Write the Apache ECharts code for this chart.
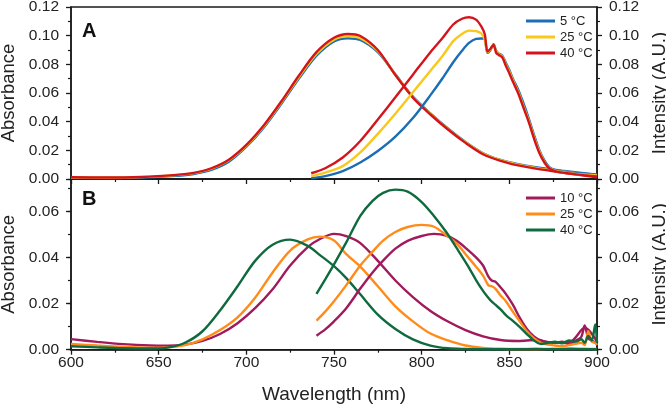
<!DOCTYPE html>
<html><head><meta charset="utf-8">
<script src="https://cdn.jsdelivr.net/npm/echarts@6/dist/echarts.min.js"></script>
<style>html,body{margin:0;padding:0;background:#fff}#c{width:666px;height:408px}</style>
</head><body><div id="c"></div><script>
// ---------- Panel A (top) ----------
const wlAbsA = [600,620,640,660,670,680,690,700,710,720,730,740,750,758,765,775,785,795,805,815,825,835,845,855,865,880,900];
const absA5  = [0.0008,0.0007,0.0010,0.0022,0.0035,0.0063,0.0120,0.0225,0.0360,0.0525,0.0700,0.0860,0.0960,0.0982,0.0970,0.0885,0.0730,0.0575,0.0458,0.0352,0.0258,0.0180,0.0133,0.0103,0.0082,0.0058,0.0030];
const absA25 = [0.0010,0.0009,0.0013,0.0027,0.0041,0.0072,0.0130,0.0232,0.0368,0.0535,0.0712,0.0872,0.0972,0.0995,0.0983,0.0893,0.0728,0.0572,0.0455,0.0350,0.0256,0.0178,0.0131,0.0100,0.0078,0.0052,0.0022];
const absA40 = [0.0012,0.0010,0.0014,0.0029,0.0043,0.0075,0.0135,0.0238,0.0375,0.0542,0.0722,0.0885,0.0985,0.1012,0.0998,0.0900,0.0725,0.0568,0.0450,0.0345,0.0252,0.0173,0.0127,0.0095,0.0072,0.0045,0.0012];

const wlEmA = [737,745,755,765,775,785,795,805,812,818,823,827,831,834,836,837.5,839,841,842.5,844,846,848,850,852,855,858,861,864,867,870,873,877,882,888,894,900];
const emA5  = [0.0005,0.0020,0.0055,0.0115,0.0195,0.0295,0.0425,0.0585,0.0705,0.0815,0.0895,0.0950,0.0978,0.0980,0.0975,0.0880,0.0895,0.0940,0.0895,0.0875,0.0860,0.0810,0.0760,0.0700,0.0625,0.0530,0.0425,0.0310,0.0205,0.0130,0.0080,0.0058,0.0048,0.0040,0.0035,0.0030];
const emA25 = [0.0020,0.0045,0.0090,0.0185,0.0315,0.0455,0.0605,0.0755,0.0860,0.0962,0.1012,0.1035,0.1032,0.1015,0.0970,0.0885,0.0900,0.0935,0.0890,0.0870,0.0855,0.0800,0.0750,0.0690,0.0610,0.0510,0.0410,0.0295,0.0195,0.0120,0.0075,0.0055,0.0045,0.0035,0.0030,0.0025];
const emA40 = [0.0040,0.0075,0.0150,0.0265,0.0415,0.0570,0.0728,0.0885,0.0985,0.1078,0.1118,0.1128,0.1112,0.1065,0.1010,0.0890,0.0905,0.0935,0.0880,0.0865,0.0848,0.0790,0.0738,0.0680,0.0600,0.0500,0.0400,0.0285,0.0185,0.0115,0.0072,0.0052,0.0042,0.0032,0.0025,0.0018];

// ---------- Panel B (bottom) ----------
const wlAbsB = [600,615,630,645,655,665,675,685,695,705,715,725,735,742,750,757,765,775,785,795,805,815,825,835,845,855,865,875,885,893,900];
const absB10 = [0.0046,0.0034,0.0024,0.0018,0.0017,0.0022,0.0038,0.0068,0.0115,0.0180,0.0262,0.0365,0.0445,0.0480,0.0502,0.0492,0.0462,0.0385,0.0300,0.0228,0.0168,0.0122,0.0085,0.0058,0.0042,0.0038,0.0042,0.0030,0.0035,0.0095,0.0035];
const absB25 = [0.0025,0.0018,0.0012,0.0009,0.0010,0.0020,0.0045,0.0085,0.0140,0.0225,0.0335,0.0430,0.0478,0.0490,0.0473,0.0414,0.0360,0.0275,0.0188,0.0123,0.0070,0.0040,0.0018,0.0008,0.0004,0.0003,0.0003,0.0004,0.0005,0.0004,0.0003];
const absB40 = [0.0015,0.0010,0.0006,0.0005,0.0009,0.0030,0.0080,0.0170,0.0275,0.0385,0.0455,0.0477,0.0450,0.0410,0.0362,0.0310,0.0240,0.0152,0.0090,0.0045,0.0018,0.0006,0.0003,0.0002,0.0002,0.0002,0.0003,0.0002,0.0003,0.0002,0.0002];

const wlEmB = [740,745,750,757,765,772,778,785,792,800,807,814,820,826,831,835,838,840,842,845,848,852,856,860,864,868,872,876,880,884,888,891,893,895,897,899,900];
const emB10 = [0.0061,0.0088,0.0123,0.0180,0.0265,0.0335,0.0386,0.0438,0.0472,0.0493,0.0502,0.0495,0.0472,0.0435,0.0400,0.0365,0.0318,0.0300,0.0295,0.0270,0.0242,0.0195,0.0138,0.0090,0.0058,0.0040,0.0032,0.0030,0.0035,0.0025,0.0040,0.0055,0.0105,0.0050,0.0040,0.0030,0.0025];
const emB25 = [0.0126,0.0165,0.0210,0.0280,0.0365,0.0425,0.0473,0.0510,0.0532,0.0541,0.0533,0.0497,0.0460,0.0405,0.0360,0.0321,0.0280,0.0275,0.0265,0.0235,0.0210,0.0165,0.0122,0.0080,0.0050,0.0030,0.0022,0.0018,0.0015,0.0020,0.0025,0.0030,0.0020,0.0080,0.0035,0.0030,0.0020];
const emB40 = [0.0242,0.0305,0.0370,0.0465,0.0580,0.0645,0.0680,0.0694,0.0685,0.0640,0.0580,0.0510,0.0440,0.0368,0.0302,0.0255,0.0225,0.0208,0.0195,0.0175,0.0150,0.0125,0.0098,0.0068,0.0040,0.0025,0.0030,0.0035,0.0028,0.0040,0.0035,0.0045,0.0030,0.0060,0.0040,0.0110,0.0030];

const legendA = {A5:'5 °C', A25:'25 °C', A40:'40 °C'};
const legendB = {B10:'10 °C', B25:'25 °C', B40:'40 °C'};
const colors = {A5:'#1b6db4', A25:'#f9c81b', A40:'#d4141c', B10:'#a01a5c', B25:'#ff8c1a', B40:'#0f6a3f'};
const xTitle = 'Wavelength (nm)';
const yLeftTitle = 'Absorbance';
const yRightTitle = 'Intensity (A.U.)';

const FONT = 'Liberation Sans';
const AX = '#1a1a1a';
const pair = (xs, ys) => xs.map((x, i) => [x, ys[i]]);

function xAx(grid, labels) {
  return {
    type:'value', gridIndex:grid, min:600, max:900, interval:50,
    axisLine:{show:true, onZero:false, lineStyle:{color:AX, width:1.5}},
    axisTick:{show:true, inside:false, length:5, lineStyle:{color:AX, width:1.3}},
    minorTick:{show:true, splitNumber:2, length:3, lineStyle:{color:AX, width:1.2}},
    splitLine:{show:false}, minorSplitLine:{show:false},
    axisLabel:{show:labels, color:'#222', fontFamily:FONT, fontSize:15.5, margin:5},
    name: labels ? xTitle : '', nameLocation:'middle', nameGap:36,
    nameTextStyle:{color:'#222', fontFamily:FONT, fontSize:19}
  };
}
function yAx(grid, pos, max, name, minorViaTick) {
  return {
    type:'value', gridIndex:grid, position:pos, min:0, max:max, interval:0.02,
    axisLine:{show:true, onZero:false, lineStyle:{color:AX, width:1.5}},
    axisTick:{show:true, inside:false, length:5, lineStyle:{color:AX, width:1.3}},
    minorTick:{show:!minorViaTick, splitNumber:2, length:3, lineStyle:{color:AX, width:1.2}},
    splitLine:{show:false},
    axisLabel:{color:'#222', fontFamily:FONT, fontSize:15.5, margin:12, showMaxLabel: !minorViaTick,
      formatter: v => v.toFixed(2)},
    name:name, nameLocation:'middle', nameRotate:90, nameGap: pos==='left' ? 52 : 51,
    nameTextStyle:{color:'#222', fontFamily:FONT, fontSize:18.5}
  };
}
function yMinor(grid, pos, max) {
  return {
    type:'value', gridIndex:grid, position:pos, min:0, max:max, interval:0.01,
    axisLine:{show:false}, axisLabel:{show:false}, splitLine:{show:false},
    axisTick:{show:true, inside:false, length:3, lineStyle:{color:AX, width:1.2}}
  };
}
function line(name, xs, ys, xi, yi) {
  return {
    type:'line', name:name, xAxisIndex:xi, yAxisIndex:yi, data:pair(xs, ys),
    showSymbol:false, symbol:'none', smooth:0.3, color:colors[name],
    lineStyle:{color:colors[name], width:2.4}, z:3
  };
}

const chart = echarts.init(document.getElementById('c'), null, {renderer:'canvas'});
const BMAX = 0.074;
chart.setOption({
  animation:false,
  backgroundColor:'#fff',
  textStyle:{fontFamily:FONT},
  grid:[
    {left:71, top:7, width:526, height:172, show:true, borderColor:AX, borderWidth:1.5, backgroundColor:'transparent', containLabel:false, outerBoundsMode:'none'},
    {left:71, top:179, width:526, height:170.7, show:true, borderColor:AX, borderWidth:1.5, backgroundColor:'transparent', containLabel:false, outerBoundsMode:'none'}
  ],
  xAxis:[xAx(0,false), xAx(1,true)],
  yAxis:[
    yAx(0,'left',0.12,yLeftTitle,false),
    yAx(0,'right',0.12,yRightTitle,false),
    yAx(1,'left',BMAX,yLeftTitle,true),
    yAx(1,'right',BMAX,yRightTitle,true),
    yMinor(1,'left',BMAX),
    yMinor(1,'right',BMAX)
  ],
  legend:[
    {orient:'vertical', left:526, top:14.5, padding:0, itemWidth:29, itemHeight:3, itemGap:3, icon:'rect',
     data:['A5','A25','A40'], formatter:n => legendA[n],
     textStyle:{color:'#222', fontFamily:FONT, fontSize:13}},
    {orient:'vertical', left:526, top:191.5, padding:0, itemWidth:29, itemHeight:3, itemGap:3, icon:'rect',
     data:['B10','B25','B40'], formatter:n => legendB[n],
     textStyle:{color:'#222', fontFamily:FONT, fontSize:13}}
  ],
  graphic:[
    {type:'text', left:82, top:21, style:{text:'A', font:'bold 20px "Liberation Sans"', fill:'#111'}},
    {type:'text', left:82, top:189, style:{text:'B', font:'bold 20px "Liberation Sans"', fill:'#111'}}
  ],
  series:[
    line('A5', wlAbsA, absA5, 0, 0),
    line('A25', wlAbsA, absA25, 0, 0),
    line('A40', wlAbsA, absA40, 0, 0),
    line('A5', wlEmA, emA5, 0, 1),
    line('A25', wlEmA, emA25, 0, 1),
    line('A40', wlEmA, emA40, 0, 1),
    line('B10', wlAbsB, absB10, 1, 2),
    line('B25', wlAbsB, absB25, 1, 2),
    line('B40', wlAbsB, absB40, 1, 2),
    line('B10', wlEmB, emB10, 1, 3),
    line('B25', wlEmB, emB25, 1, 3),
    line('B40', wlEmB, emB40, 1, 3)
  ]
});
</script></body></html>
